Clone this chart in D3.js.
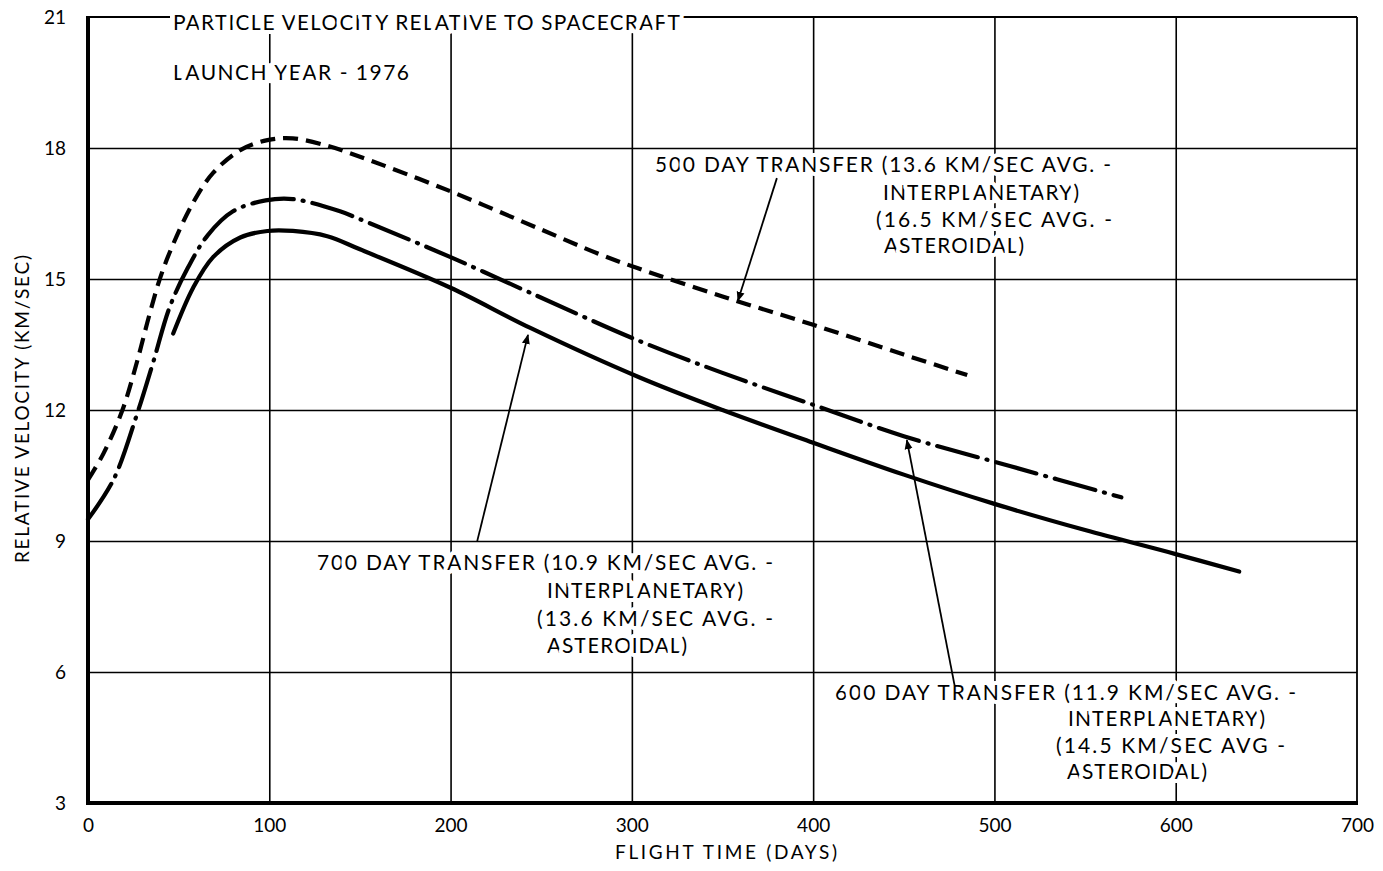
<!DOCTYPE html>
<html><head><meta charset="utf-8">
<script src="https://cdn.jsdelivr.net/npm/d3@7"></script>
<style>
body{margin:0;background:#fff;}
svg{display:block;}
text{font-family:Lato,"Open Sans",sans-serif;fill:#000;}
</style></head>
<body><svg id="c" width="1383" height="871"></svg>
<script>
// ---------- data ----------
const xTicks = [0,100,200,300,400,500,600,700];
const yTicks = [3,6,9,12,15,18,21];
const xGrid = [100,200,300,400,500,600];
const yGrid = [6,9,12,15,18];

// 500 day transfer (dashed)
const days500 = [0,8.5,19,27,34,40,47,58,69,84,99,113,132,150,198,249,282,303,350,400,450,485];
const vel500  = [10.4,11.0,12.0,13.1,14.2,15.05,15.8,16.75,17.43,17.95,18.18,18.22,18.05,17.8,17.04,16.15,15.57,15.25,14.6,13.95,13.27,12.8];
// 600 day transfer (dash-dot)
const days600 = [0,14,27,36,45,55,66,80,98,113,139,150,200,242,303,350,400,450,510,570];
const vel600  = [9.5,10.4,11.9,13.1,14.35,15.25,16.0,16.55,16.8,16.83,16.55,16.37,15.5,14.72,13.6,12.85,12.12,11.4,10.7,10.0];
// 700 day transfer (solid)
const days700 = [47,58,69,84,99,113,132,150,200,244,304,350,400,450,500,550,600,635];
const vel700  = [13.75,14.8,15.5,15.95,16.1,16.1,15.98,15.68,14.8,13.88,12.75,12.0,11.25,10.52,9.85,9.25,8.7,8.3];

const titleLines = ["PARTICLE VELOCITY RELATIVE TO SPACECRAFT","LAUNCH YEAR - 1976"];
const label500 = ["500 DAY TRANSFER  (13.6 KM/SEC AVG. -","INTERPLANETARY)","(16.5 KM/SEC AVG. -","ASTEROIDAL)"];
const label600 = ["600 DAY TRANSFER  (11.9 KM/SEC AVG. -","INTERPLANETARY)","(14.5 KM/SEC AVG -","ASTEROIDAL)"];
const label700 = ["700 DAY TRANSFER  (10.9 KM/SEC AVG. -","INTERPLANETARY)","(13.6 KM/SEC AVG. -","ASTEROIDAL)"];
// arrows: [tailDay, tailVel, tipDay, tipVel]
const arrow500 = [380,17.31,358.5,14.5];
const arrow600 = [478,5.70,451.7,11.31];
const arrow700 = [214.6,8.98,242.7,13.72];

// ---------- layout ----------
const svg = d3.select("#c");
const L=88, R=1357, T=17, B=803;
const x = d3.scaleLinear().domain([0,700]).range([L,R]);
const y = d3.scaleLinear().domain([3,21]).range([B,T]);

svg.append("defs").append("marker").attr("id","ah").attr("viewBox","0 0 10 10")
  .attr("refX",9).attr("refY",5).attr("markerWidth",10).attr("markerHeight",14)
  .attr("markerUnits","userSpaceOnUse").attr("orient","auto")
  .append("path").attr("d","M0,1 L10,5 L0,9 Z").attr("fill","#000");

// grid via axes
const gx = svg.append("g").attr("transform",`translate(0,${B})`)
  .call(d3.axisBottom(x).tickValues(xGrid).tickSize(-(B-T)).tickFormat(""));
const gy = svg.append("g").attr("transform",`translate(${L},0)`)
  .call(d3.axisLeft(y).tickValues(yGrid).tickSize(-(R-L)).tickFormat(""));
[gx,gy].forEach(g=>{g.select(".domain").remove();g.selectAll("line").attr("stroke","#000").attr("stroke-width",1.6);});

// frame (top & right thin)
svg.append("line").attr("x1",L).attr("x2",R).attr("y1",T).attr("y2",T).attr("stroke","#000").attr("stroke-width",1.8);
svg.append("line").attr("x1",R).attr("x2",R).attr("y1",T).attr("y2",B).attr("stroke","#000").attr("stroke-width",1.8);

// tick labels via axes
const ax = svg.append("g").attr("transform",`translate(0,${B})`)
  .call(d3.axisBottom(x).tickValues(xTicks).tickSize(0).tickPadding(16).tickFormat(d3.format("d")));
const ay = svg.append("g").attr("transform",`translate(${L},0)`)
  .call(d3.axisLeft(y).tickValues(yTicks).tickSize(0).tickPadding(22).tickFormat(d3.format("d")));
[ax,ay].forEach(g=>{g.select(".domain").remove();g.selectAll("text").attr("font-size",19).attr("font-family","Lato").attr("fill","#000");});

svg.append("text").attr("x",615).attr("y",859).attr("font-size",19)
  .attr("textLength",222).attr("lengthAdjust","spacing").text("FLIGHT TIME (DAYS)");
svg.append("text").attr("transform","translate(29,563) rotate(-90)").attr("font-size",19)
  .attr("textLength",308).attr("lengthAdjust","spacing").text("RELATIVE VELOCITY (KM/SEC)");

// text blocks with white backing
const FS = 21;
function block(lines, xs, ys, ws){
  const g = svg.append("g");
  const bg = g.append("g");
  lines.forEach((t,i)=>{
    g.append("text").attr("x",xs[i]).attr("y",ys[i]).attr("font-size",FS)
      .attr("textLength",ws[i]).attr("lengthAdjust","spacing")
      .attr("stroke","#fff").attr("stroke-width",8).attr("stroke-linejoin","round")
      .attr("paint-order","stroke").text(t);
    bg.append("rect").attr("x",xs[i]-3).attr("y",ys[i]-FS*0.8).attr("width",ws[i]+6).attr("height",FS*0.95).attr("fill","#fff");
  });
}
block(titleLines,[173,173],[30,80],[507,236]);
block(label500,[655,883,876,884],[172,200,227,253],[456,196,236,140]);
block(label700,[317,547,537,547],[570,598,626,653],[456,196,236,140]);
block(label600,[835,1068,1056,1067],[700,726,753,779],[461,197,229,140]);

// thick left & bottom axes
svg.append("line").attr("x1",L).attr("x2",L).attr("y1",T-1).attr("y2",B+2).attr("stroke","#000").attr("stroke-width",4);
svg.append("line").attr("x1",L-2).attr("x2",R+1).attr("y1",B).attr("y2",B).attr("stroke","#000").attr("stroke-width",4);

// curves
const line = d3.line().x(d=>x(d[0])).y(d=>y(d[1])).curve(d3.curveCatmullRom.alpha(0.5));
const series = [
  {d:d3.zip(days500,vel500), dash:"15,8", cap:"butt"},
  {d:d3.zip(days600,vel600), dash:"42,9,1,9", cap:"round"},
  {d:d3.zip(days700,vel700), dash:null, cap:"round"}
];
series.forEach(s=>{
  svg.append("path").attr("d",line(s.d)).attr("fill","none").attr("stroke","#000")
    .attr("stroke-width",4.2).attr("stroke-linecap",s.cap)
    .attr("stroke-dasharray",s.dash);
});

// arrows
[arrow500,arrow600,arrow700].forEach(a=>{
  svg.append("line").attr("x1",x(a[0])).attr("y1",y(a[1])).attr("x2",x(a[2])).attr("y2",y(a[3]))
    .attr("stroke","#000").attr("stroke-width",1.8).attr("marker-end","url(#ah)");
});
</script></body></html>
